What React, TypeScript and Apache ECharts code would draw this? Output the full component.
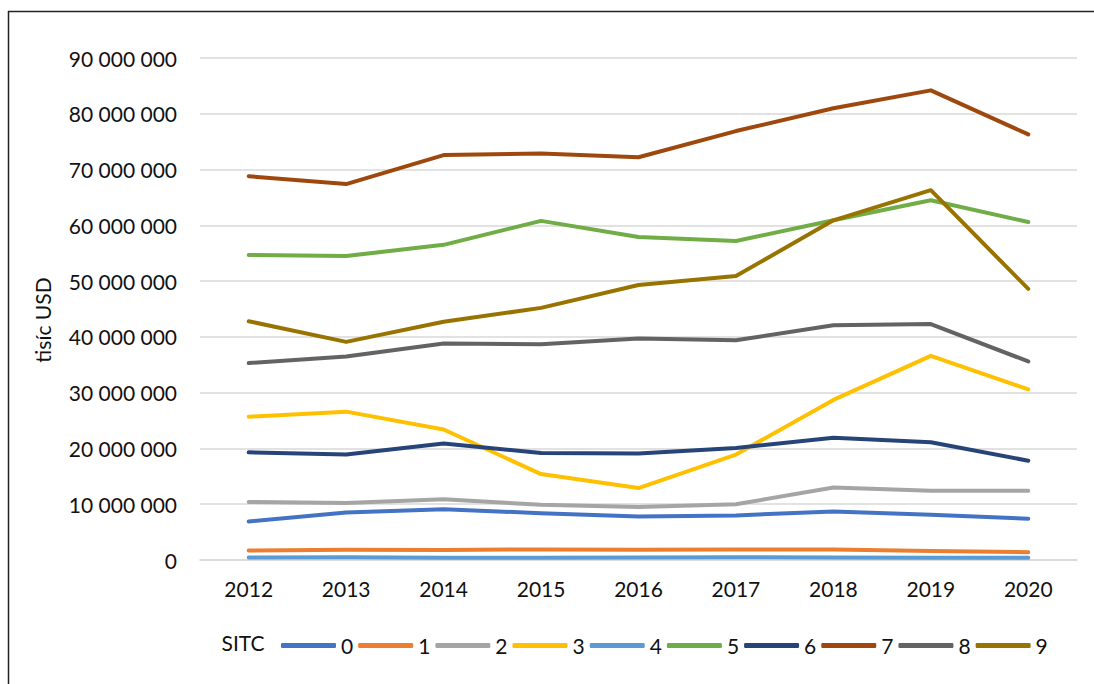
import React, { useEffect, useRef } from "react";
import * as echarts from "echarts";

const years = ["2012", "2013", "2014", "2015", "2016", "2017", "2018", "2019", "2020"];
const seriesNames = ["0", "1", "2", "3", "4", "5", "6", "7", "8", "9"];
const colors = ["#4472C4", "#ED7D31", "#A5A5A5", "#FFC000", "#5B9BD5", "#70AD47", "#264478", "#9E480E", "#636363", "#997300"];

const sitc0 = [6900000, 8500000, 9100000, 8400000, 7800000, 8000000, 8700000, 8100000, 7400000];
const sitc1 = [1700000, 1850000, 1800000, 1900000, 1850000, 1900000, 1900000, 1600000, 1400000];
const sitc2 = [10400000, 10200000, 10900000, 9900000, 9500000, 10000000, 13000000, 12400000, 12400000];
const sitc3 = [25700000, 26600000, 23400000, 15400000, 12900000, 18900000, 28700000, 36600000, 30600000];
const sitc4 = [450000, 500000, 400000, 400000, 450000, 500000, 450000, 400000, 400000];
const sitc5 = [54700000, 54500000, 56500000, 60800000, 57900000, 57200000, 60900000, 64500000, 60600000];
const sitc6 = [19300000, 18900000, 20900000, 19200000, 19100000, 20100000, 21900000, 21100000, 17800000];
const sitc7 = [68800000, 67400000, 72600000, 72900000, 72200000, 76900000, 81000000, 84200000, 76300000];
const sitc8 = [35300000, 36500000, 38800000, 38700000, 39700000, 39400000, 42100000, 42300000, 35600000];
const sitc9 = [42800000, 39100000, 42700000, 45200000, 49300000, 50900000, 60900000, 66300000, 48600000];

const allSeries = [sitc0, sitc1, sitc2, sitc3, sitc4, sitc5, sitc6, sitc7, sitc8, sitc9];

const yAxisTitle = "tisíc USD";
const legendTitle = "SITC";

const FONT = "Lato";
const FS = 21;

function fmt(v: number): string {
  return String(v).replace(/\B(?=(\d{3})+(?!\d))/g, " ");
}

export default function App() {
  const ref = useRef<HTMLDivElement>(null);
  useEffect(() => {
    if (!ref.current) return;
    const chart = echarts.init(ref.current, null, { renderer: "svg" });
    chart.setOption({
      animation: false,
      backgroundColor: "#ffffff",
      color: colors,
      grid: { left: 200, right: 17, top: 58, bottom: 124 },
      xAxis: {
        type: "category",
        data: years,
        boundaryGap: true,
        axisLine: { show: true, lineStyle: { color: "#d9d9d9", width: 1.5 } },
        axisTick: { show: false },
        axisLabel: { color: "#111", fontFamily: FONT, fontSize: FS, margin: 18 },
      },
      yAxis: {
        type: "value",
        min: 0,
        max: 90000000,
        interval: 10000000,
        axisLine: { show: false },
        axisTick: { show: false },
        splitLine: { lineStyle: { color: "#d9d9d9", width: 1.5 } },
        axisLabel: { color: "#111", fontFamily: FONT, fontSize: FS, margin: 23, formatter: (v: number) => fmt(v) },
      },
      legend: {
        show: true,
        left: 276,
        top: 630,
        icon: "roundRect",
        itemWidth: 55,
        itemHeight: 5,
        itemGap: 5,
        textStyle: { color: "#111", fontFamily: FONT, fontSize: FS },
        data: seriesNames,
      },
      graphic: [
        {
          type: "line",
          shape: { x1: 8.5, y1: 11, x2: 8.5, y2: 684 },
          style: { stroke: "#222", lineWidth: 1.5 },
          silent: true,
        },
        {
          type: "line",
          shape: { x1: 8, y1: 11.5, x2: 1094, y2: 11.5 },
          style: { stroke: "#222", lineWidth: 1.5 },
          silent: true,
        },
        {
          type: "text",
          x: 42,
          y: 320,
          rotation: Math.PI / 2,
          style: {
            text: yAxisTitle,
            fill: "#111",
            font: `${FS}px ${FONT}`,
            textAlign: "center",
            textVerticalAlign: "middle",
          },
        },
        {
          type: "text",
          x: 243,
          y: 642,
          style: {
            text: legendTitle,
            fill: "#111",
            font: `${FS}px ${FONT}`,
            textAlign: "center",
            textVerticalAlign: "middle",
          },
        },
      ],
      series: allSeries.map((d, i) => ({
        name: seriesNames[i],
        type: "line",
        data: d,
        symbol: "none",
        lineStyle: { width: 4, color: colors[i], cap: "round", join: "round" },
        itemStyle: { color: colors[i] },
      })),
    });
    return () => chart.dispose();
  }, []);
  return <div ref={ref} style={{ position: "absolute", left: 0, top: 0, width: 1094, height: 684 }} />;
}
